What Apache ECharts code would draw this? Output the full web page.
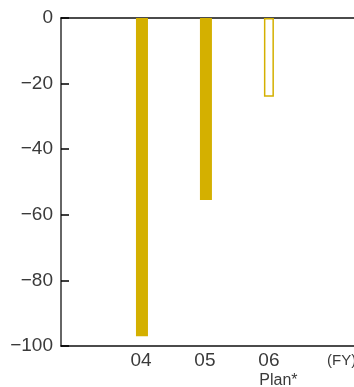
<!DOCTYPE html>
<html>
<head>
<meta charset="utf-8">
<style>
  html, body { margin: 0; padding: 0; background: #fff; }
  #chart { width: 354px; height: 387px; }
</style>
<script src="https://cdn.jsdelivr.net/npm/echarts@6/dist/echarts.min.js"></script>
</head>
<body>
<div id="chart"></div>
<script>
// Fiscal years shown on the horizontal axis
const years = ['04', '05', '06'];
// Results for FY04 and FY05
const actualValues = [-97, -55.5];
// Plan figure for FY06
const planValues = [-24];
const planLabel = 'Plan*';
const unitLabel = '(FY)';
// Vertical axis ticks
const yTicks = [0, -20, -40, -60, -80, -100];

const gold = '#d4b000';
const textColor = '#3a3a3a';
const font = '"Liberation Sans", Arial, sans-serif';

// Year slots sit at 1, 2, 3 on the horizontal value scale
const actualData = actualValues.map((v, i) => [i + 1, v]);
const planData = planValues.map((v, i) => [actualValues.length + i + 1, v]);

const xRange = { min: -0.25, max: 4.33 };

const chart = echarts.init(document.getElementById('chart'), null, { renderer: 'canvas' });

chart.setOption({
  animation: false,
  backgroundColor: '#fff',
  grid: { left: 61, right: 0, top: 18, bottom: 41, containLabel: false, outerBoundsMode: 'none' },
  xAxis: [
    {
      // bottom axis carrying the year labels
      type: 'value',
      position: 'bottom',
      min: xRange.min,
      max: xRange.max,
      splitLine: { show: false },
      axisTick: { show: false },
      axisLine: { show: true, onZero: false, lineStyle: { color: '#111', width: 1.5 } },
      axisLabel: {
        showMinLabel: false,
        showMaxLabel: false,
        margin: 5,
        color: textColor,
        fontFamily: font,
        fontSize: 19,
        lineHeight: 20,
        verticalAlign: 'top',
        formatter: function (val) {
          const idx = Math.round(val) - 1;
          if (Math.abs(val - Math.round(val)) > 1e-6 || idx < 0 || idx >= years.length) return '';
          if (idx === years.length - 1) return years[idx] + '\n{p|' + planLabel + '}';
          return years[idx];
        },
        rich: {
          p: { fontSize: 16, fontFamily: font, color: textColor, padding: [1, 0, 0, 19], lineHeight: 19 }
        }
      }
    },
    {
      // top baseline at zero
      type: 'value',
      position: 'top',
      min: xRange.min,
      max: xRange.max,
      splitLine: { show: false },
      axisTick: { show: false },
      axisLabel: { show: false },
      axisLine: { show: true, onZero: false, lineStyle: { color: '#111', width: 1.5 } }
    }
  ],
  yAxis: {
    type: 'value',
    min: yTicks[yTicks.length - 1],
    max: yTicks[0],
    interval: 20,
    splitLine: { show: false },
    axisLine: { show: true, onZero: false, lineStyle: { color: '#333', width: 1.5 } },
    axisTick: { show: true, inside: true, length: 8, lineStyle: { color: '#000', width: 1.5 } },
    axisLabel: {
      margin: 8,
      color: textColor,
      fontFamily: font,
      fontSize: 19,
      formatter: function (v) { return v < 0 ? '\u2212' + Math.abs(v) : String(v); }
    }
  },
  graphic: [{
    type: 'text',
    left: 327,
    top: 353,
    style: { text: unitLabel, fill: textColor, font: '15px ' + font }
  }],
  series: [
    {
      type: 'bar',
      name: 'Actual',
      xAxisIndex: 0,
      data: actualData,
      barWidth: 12,
      itemStyle: { color: gold }
    },
    {
      type: 'bar',
      name: 'Plan',
      xAxisIndex: 0,
      data: planData,
      barWidth: 10,
      barGap: '-100%',
      itemStyle: { color: '#fff', borderColor: gold, borderWidth: 1.5 }
    }
  ]
});
</script>
</body>
</html>
